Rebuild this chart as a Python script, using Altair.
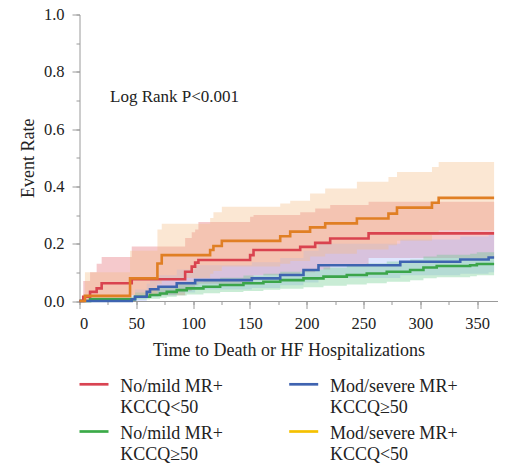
import altair as alt
import pandas as pd

FONT = "Liberation Serif"

groups = ["No/mild MR+ KCCQ≥50", "Mod/severe MR+ KCCQ≥50", "No/mild MR+ KCCQ<50", "Mod/severe MR+ KCCQ<50"]
line_colors = ["#3BA54A", "#3E64B0", "#D9434F", "#E07F24"]
band_colors = ["#68CA8B", "#A5B8FD", "#E26A72", "#F4BC85"]
band_order = ["No/mild MR+ KCCQ<50", "Mod/severe MR+ KCCQ≥50", "No/mild MR+ KCCQ≥50", "Mod/severe MR+ KCCQ<50"]

# Mod/severe MR+ KCCQ<50 (orange)
or_t = [0, 4.8, 44.5, 68.6, 72.4, 115, 117.9, 125.3, 176.7, 185.5, 203, 216.3, 244.2, 272, 279.5, 310.3, 316.2, 365]
or_v = [0, 0.018, 0.079, 0.131, 0.160, 0.178, 0.192, 0.21, 0.226, 0.242, 0.257, 0.271, 0.288, 0.305, 0.326, 0.343, 0.36, 0.36]
or_lo = [0, 0.0, 0.02, 0.06, 0.08, 0.095, 0.105, 0.12, 0.13, 0.14, 0.155, 0.165, 0.18, 0.195, 0.21, 0.23, 0.247, 0.247]
or_hi = [0, 0.10, 0.175, 0.25, 0.27, 0.29, 0.31, 0.329, 0.34, 0.35, 0.375, 0.393, 0.416, 0.433, 0.45, 0.468, 0.485, 0.485]

# No/mild MR+ KCCQ<50 (red)
rd_t = [0, 3.3, 9.3, 15.1, 19.5, 46, 93, 98.8, 101.8, 104.7, 150.2, 153.2, 194.3, 207.5, 220.7, 254.5, 365]
rd_v = [0, 0.015, 0.032, 0.044, 0.062, 0.076, 0.102, 0.12, 0.134, 0.143, 0.160, 0.178, 0.189, 0.203, 0.218, 0.236, 0.236]
rd_lo = [0, 0, 0, 0.005, 0.01, 0.02, 0.035, 0.045, 0.055, 0.06, 0.075, 0.09, 0.10, 0.11, 0.125, 0.15, 0.15]
rd_hi = [0, 0.07, 0.10, 0.13, 0.154, 0.19, 0.22, 0.24, 0.25, 0.276, 0.294, 0.30, 0.31, 0.323, 0.335, 0.346, 0.346]

# Mod/severe MR+ KCCQ>=50 (blue)
bl_t = [0, 46, 48.9, 59.2, 62.1, 69.5, 85.6, 101.8, 151.7, 176.7, 197.2, 210.4, 282.4, 335.2, 360.2, 365]
bl_v = [0, 0.006, 0.015, 0.032, 0.041, 0.05, 0.062, 0.073, 0.079, 0.091, 0.108, 0.125, 0.137, 0.145, 0.152, 0.152]
bl_lo = [0, 0, 0.0, 0.01, 0.015, 0.02, 0.03, 0.04, 0.045, 0.055, 0.065, 0.08, 0.09, 0.095, 0.10, 0.10]
bl_hi = [0, 0.02, 0.04, 0.06, 0.075, 0.09, 0.11, 0.125, 0.135, 0.15, 0.175, 0.20, 0.215, 0.225, 0.23, 0.23]

# No/mild MR+ KCCQ>=50 (green)
gr_t = [0, 9.3, 48.9, 62.1, 70.9, 76.8, 85.6, 94.4, 109.1, 123.8, 144.3, 161.9, 176.7, 197.2, 214.8, 235.3, 252.9, 270.5, 291.1, 302.8, 314.5, 343.9, 349.8, 365]
gr_v = [0, 0.006, 0.015, 0.021, 0.026, 0.032, 0.038, 0.044, 0.05, 0.056, 0.062, 0.067, 0.073, 0.079, 0.085, 0.091, 0.096, 0.102, 0.108, 0.117, 0.122, 0.125, 0.129, 0.129]
gr_lo = [0, 0, 0.005, 0.008, 0.011, 0.015, 0.019, 0.023, 0.027, 0.031, 0.035, 0.039, 0.043, 0.048, 0.053, 0.058, 0.062, 0.067, 0.072, 0.079, 0.083, 0.086, 0.09, 0.09]
gr_hi = [0, 0.015, 0.03, 0.038, 0.045, 0.052, 0.06, 0.067, 0.074, 0.081, 0.089, 0.095, 0.102, 0.11, 0.117, 0.125, 0.131, 0.138, 0.145, 0.155, 0.161, 0.165, 0.17, 0.17]

x_ticks = [0, 50, 100, 150, 200, 250, 300, 350]
x_minor = [0, 25, 50, 75, 100, 125, 150, 175, 200, 225, 250, 275, 300, 325, 350]
y_ticks = [0.0, 0.2, 0.4, 0.6, 0.8, 1.0]
y_minor = [0.0, 0.1, 0.2, 0.3, 0.4, 0.5, 0.6, 0.7, 0.8, 0.9, 1.0]

leg_labels = ["No/mild MR+\nKCCQ<50", "Mod/severe MR+\nKCCQ≥50", "No/mild MR+\nKCCQ≥50", "Mod/severe MR+\nKCCQ<50"]
leg_colors = ["#D94452", "#3F63B0", "#3BAA48", "#F5C100"]
leg_col = [0, 1, 0, 1]
leg_row = [0, 0, 1, 1]


def frame(name, t, v, lo, hi):
    return pd.DataFrame({"group": name, "t": t, "v": v, "lo": lo, "hi": hi})


parts = {
    groups[0]: frame(groups[0], gr_t, gr_v, gr_lo, gr_hi),
    groups[1]: frame(groups[1], bl_t, bl_v, bl_lo, bl_hi),
    groups[2]: frame(groups[2], rd_t, rd_v, rd_lo, rd_hi),
    groups[3]: frame(groups[3], or_t, or_v, or_lo, or_hi),
}
df_lines = pd.concat([parts[g] for g in groups], ignore_index=True)
df_bands = pd.concat([parts[g] for g in band_order], ignore_index=True)

xscale = alt.Scale(domain=[0, 368], nice=False, zero=False)
yscale = alt.Scale(domain=[0, 1], nice=False)

bands = alt.Chart(df_bands).mark_area(interpolate="step-after", opacity=0.36).encode(
    x=alt.X("t:Q", scale=xscale, axis=alt.Axis(
        values=x_ticks, title="Time to Death or HF Hospitalizations", orient="bottom",
        tickSize=7.5, labelPadding=7.2, titlePadding=9, labelFont=FONT, titleFont=FONT,
        labelFontSize=16.5, titleFontSize=18)),
    y=alt.Y("lo:Q", scale=yscale, axis=alt.Axis(
        values=y_ticks, format=".1f", title="Event Rate", orient="left",
        tickSize=7.5, labelPadding=8, titlePadding=6, labelFont=FONT, titleFont=FONT,
        labelFontSize=16.5, titleFontSize=18)),
    y2="hi:Q",
    fill=alt.Fill("group:N", scale=alt.Scale(domain=groups, range=band_colors), legend=None),
)

lines = alt.Chart(df_lines).mark_line(interpolate="step-after", strokeWidth=2.6).encode(
    x=alt.X("t:Q", scale=xscale, axis=alt.Axis(
        values=x_minor, orient="bottom", tickSize=3.5, labels=False, domain=False, title=None)),
    y=alt.Y("v:Q", scale=yscale, axis=alt.Axis(
        values=y_minor, orient="left", tickSize=3.5, labels=False, domain=False, title=None)),
    stroke=alt.Stroke("group:N", scale=alt.Scale(domain=groups, range=line_colors), legend=None),
)

note = alt.Chart(pd.DataFrame({"t": [26.9], "v": [0.694], "label": ["Log Rank P<0.001"]})).mark_text(
    align="left", baseline="alphabetic", font=FONT, fontSize=17, color="#222222"
).encode(
    x=alt.X("t:Q", scale=xscale, axis=None),
    y=alt.Y("v:Q", scale=yscale, axis=None),
    text="label:N",
)

inner = alt.layer(bands, lines, note).resolve_scale(fill="independent", stroke="independent").resolve_axis(x="independent", y="independent")

leg_df = pd.DataFrame({"label": leg_labels, "color": leg_colors, "col": leg_col, "row": leg_row})
lx = alt.X("col:Q", scale=alt.Scale(domain=[0, 1], range=[0, 209.7]), axis=None)
ly = alt.Y("row:Q", scale=alt.Scale(domain=[0, 1], range=[369.8, 417]), axis=None)

leg_rule = alt.Chart(leg_df).mark_rule(strokeWidth=2.7, x2Offset=29).encode(
    x=lx, x2="col:Q", y=ly, color=alt.Color("color:N", scale=None))
leg_text = alt.Chart(leg_df).mark_text(
    align="left", baseline="alphabetic", dx=40.7, dy=7.2, lineBreak="\n", lineHeight=21.8,
    font=FONT, fontSize=18, color="#222222"
).encode(x=lx, y=ly, text="label:N")

legend = alt.layer(leg_rule, leg_text)

chart = alt.layer(inner, legend).resolve_scale(x="independent", y="independent").properties(
    width=418, height=286.5,
    autosize=alt.AutoSizeParams(type="none"),
    padding={"left": 71.5, "top": 6.5, "right": 0, "bottom": 163},
).configure_view(stroke=None).configure_axis(
    grid=False, domainColor="#9a9a9a", tickColor="#9a9a9a", domainWidth=1, tickWidth=1,
    labelFont=FONT, titleFont=FONT, labelColor="#222222", titleColor="#222222",
    titleFontWeight="normal",
)

chart.save("out.html", embed_options={"renderer": "svg", "actions": False})
